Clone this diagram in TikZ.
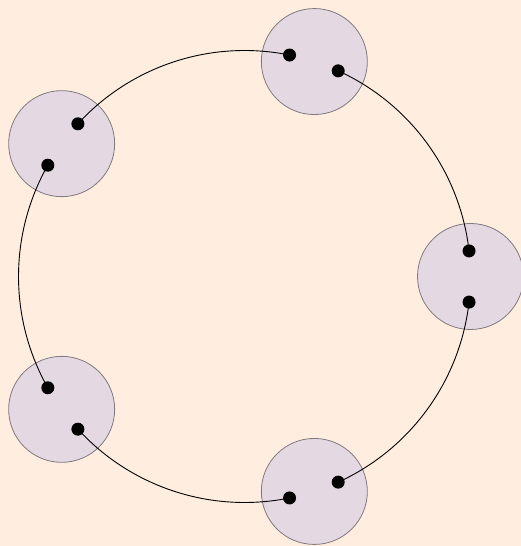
\documentclass[tikz,border=0pt]{standalone}
\usetikzlibrary{calc}
\definecolor{bgc}{RGB}{255,238,223}
\definecolor{blobfill}{RGB}{228,216,227}
\definecolor{blobline}{RGB}{128,122,126}
\begin{document}
\begin{tikzpicture}[x=1pt,y=1pt,
  blob/.style={circle,minimum size=106pt,inner sep=0pt,fill=blobfill,draw=blobline,line width=0.8pt},
  dotnode/.style={circle,minimum size=13pt,inner sep=0pt,fill=black},
  link/.style={draw=black,line width=0.9pt}]
\fill[bgc] (0,0) rectangle (521,546);
\useasboundingbox (0,0) rectangle (521,546);
\coordinate (C) at (244.5,269.5);
\foreach \i/\a in {0/0,1/72,2/144,3/216,4/288}{
  \node[blob] (c\i) at ($(C)+(\a:226)$) {};
}
\foreach \i/\a in {0/0,1/72,2/144,3/216,4/288}{
  \coordinate (p\i a) at ($(C)+({\a-6.5}:226)$);
  \coordinate (p\i b) at ($(C)+({\a+6.5}:226)$);
}
\foreach \i/\a in {0/0,1/72,2/144,3/216,4/288}{
  \draw[link] (p\i b) arc[start angle={\a+6.5}, end angle={\a+65.5}, radius=226];
}
\foreach \i in {0,...,4}{
  \node[dotnode] (d\i a) at (p\i a) {};
  \node[dotnode] (d\i b) at (p\i b) {};
}
\end{tikzpicture}
\end{document}
